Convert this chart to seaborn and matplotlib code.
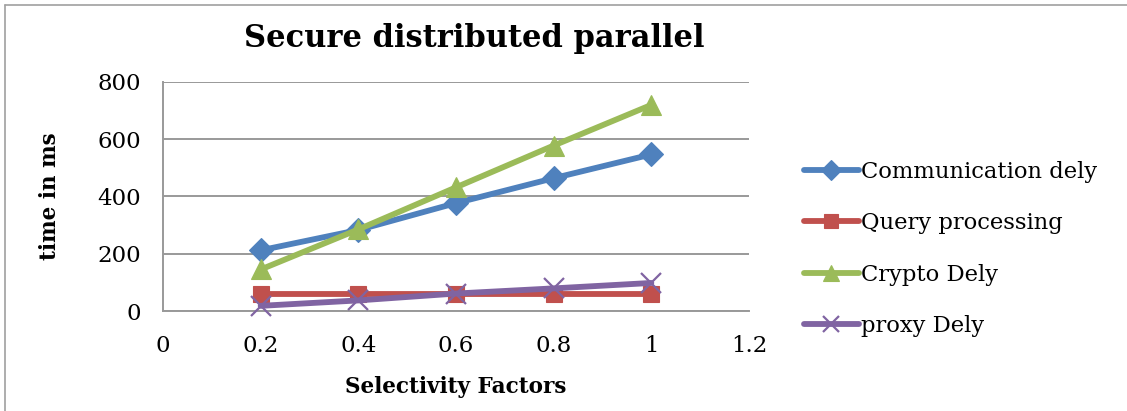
import matplotlib
matplotlib.use("Agg")
import matplotlib.pyplot as plt
import seaborn as sns
import pandas as pd
from matplotlib.lines import Line2D

# Selectivity factors on the x axis
selectivity = [0.2, 0.4, 0.6, 0.8, 1.0]

# Time in ms for each component
communication_dely = [212, 283, 377, 464, 547]
query_processing = [58, 58, 58, 58, 58]
crypto_dely = [145, 285, 432, 578, 720]
proxy_dely = [18, 37, 61, 79, 98]

series_names = ["Communication dely", "Query processing", "Crypto Dely", "proxy Dely"]
series_values = [communication_dely, query_processing, crypto_dely, proxy_dely]
colors = ["#4F81BD", "#C0504D", "#9BBB59", "#8064A2"]
markers = ["D", "s", "^", "x"]
marker_sizes = [12, 12, 14, 14]

y_ticks = [0, 200, 400, 600, 800]
x_ticks = [0, 0.2, 0.4, 0.6, 0.8, 1.0, 1.2]
x_tick_labels = ["0", "0.2", "0.4", "0.6", "0.8", "1", "1.2"]

sns.set_style("white")
plt.rcParams["font.family"] = ["DejaVu Serif"]
plt.rcParams["text.color"] = "black"
plt.rcParams["axes.labelcolor"] = "black"

W, H = 1127, 411
fig = plt.figure(figsize=(W / 100, H / 100), dpi=100)
ax = fig.add_axes([163 / W, 1 - 311 / H, (749 - 163) / W, (311 - 82) / H])

grid_color = "#999999"
for name, vals, c, m, ms in zip(series_names, series_values, colors, markers, marker_sizes):
    df = pd.DataFrame({"x": selectivity, "y": vals})
    sns.lineplot(data=df, x="x", y="y", ax=ax, color=c, lw=4.2, marker=m,
                 markersize=ms, markeredgecolor=c, markerfacecolor=c,
                 markeredgewidth=1.6 if m == "x" else 0.8, clip_on=False,
                 label=None, legend=False, zorder=3, solid_capstyle="round")

ax.set_xlim(0, 1.2)
ax.set_ylim(0, 800)
ax.set_xticks(x_ticks)
ax.set_xticklabels(x_tick_labels)
ax.set_yticks(y_ticks)
ax.yaxis.grid(True, color=grid_color, lw=1.4)
ax.xaxis.grid(False)
for s in ["top", "right"]:
    ax.spines[s].set_visible(False)
for s in ["left", "bottom"]:
    ax.spines[s].set_color(grid_color)
    ax.spines[s].set_linewidth(1.4)
ax.tick_params(axis="both", which="both", direction="out", length=6, width=1.2,
               color=grid_color, labelsize=16.5, labelcolor="black")
ax.tick_params(axis="y", pad=10)
ax.tick_params(axis="x", pad=11)
ax.set_xlabel("Selectivity Factors", fontsize=15.5, fontweight="bold", labelpad=14,
              color="black")
ax.set_ylabel("time in ms", fontsize=15.5, fontweight="bold", labelpad=26, color="black")

fig.text(474 / W, 1 - 38 / H, "Secure distributed parallel", ha="center", va="center",
         fontsize=22, fontweight="bold", color="black")

handles = [Line2D([0], [0], color=c, lw=4.2, marker=m, markersize=ms - 2, markeredgecolor=c,
                  markerfacecolor=c, markeredgewidth=1.6 if m == "x" else 0.8,
                  solid_capstyle="round")
           for c, m, ms in zip(colors, markers, marker_sizes)]
fig.legend(handles, series_names, loc="center left", bbox_to_anchor=(793 / W, 1 - 249 / H),
           frameon=False, fontsize=16.3, handlelength=2.4, handletextpad=0.1,
           labelspacing=1.3, borderpad=0, numpoints=1, labelcolor="black")

# chart-area outline along the left and top edges
fig.add_artist(Line2D([4.5 / W, 4.5 / W], [0, 1 - 5.5 / H], transform=fig.transFigure,
                      color="#A0A0A0", lw=1.2))
fig.add_artist(Line2D([4.5 / W, 1], [1 - 5.5 / H, 1 - 5.5 / H], transform=fig.transFigure,
                      color="#A0A0A0", lw=1.2))

fig.savefig("out.png", dpi=100)
